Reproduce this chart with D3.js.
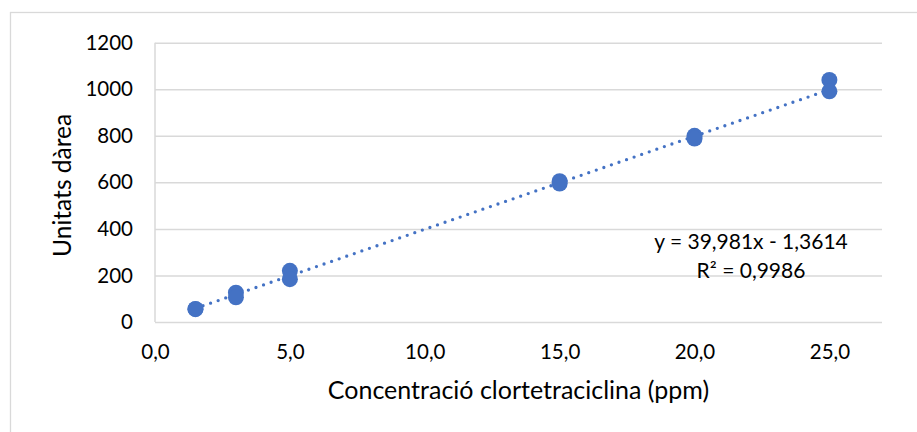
<!DOCTYPE html>
<html>
<head>
<meta charset="utf-8">
<script src="https://cdn.jsdelivr.net/npm/d3@7"></script>
<style>
  html, body { margin: 0; padding: 0; background: #fff; }
  svg { display: block; font-family: Lato, "Open Sans", sans-serif; }
</style>
</head>
<body>
<svg id="chart" width="917" height="432"></svg>
<script>
// Calibration data: concentration (ppm) vs. peak area units
const concentration = [1.5, 1.5, 3, 3, 5, 5, 15, 15, 20, 20, 25, 25];
const areaUnits     = [55, 56, 126, 106, 220, 184, 605, 595, 800, 788, 1040, 991];

// Axis ticks
const xTicks = [0, 5, 10, 15, 20, 25];
const yTicks = [0, 200, 400, 600, 800, 1000, 1200];

// Linear trendline fit
const slope = 39.981;
const intercept = -1.3614;
const rSquared = 0.9986;

const xTitle = "Concentració clortetraciclina (ppm)";
const yTitle = "Unitats dàrea";

const blue = "#4472C4";
const gridColor = "#d9d9d9";

const svg = d3.select("#chart");

// Chart area frame
svg.append("rect")
  .attr("x", 10.5).attr("y", 12.5)
  .attr("width", 930).attr("height", 440)
  .attr("fill", "#fff")
  .attr("stroke", gridColor)
  .attr("stroke-width", 1.3);

const plot = { left: 155, right: 882, top: 42.7, bottom: 322 };

const x = d3.scaleLinear().domain([0, 26.95]).range([plot.left, plot.right]);
const y = d3.scaleLinear().domain([0, 1200]).range([plot.bottom, plot.top]);

const commaFmt = (f) => (v) => d3.format(f)(v).replace(".", ",");

// Horizontal gridlines + y tick labels
const yAxis = svg.append("g")
  .attr("transform", `translate(${plot.left},0)`)
  .call(d3.axisLeft(y).tickValues(yTicks).tickSize(-(plot.right - plot.left)).tickPadding(22).tickFormat(d3.format("d")));
yAxis.select(".domain").remove();
yAxis.selectAll(".tick line").attr("stroke", gridColor).attr("stroke-width", 1.5);
yAxis.selectAll(".tick text")
  .attr("fill", "#000").attr("font-size", 20.5).attr("font-family", "Lato, sans-serif");

// Vertical axis line
svg.append("line")
  .attr("x1", plot.left).attr("x2", plot.left)
  .attr("y1", plot.top).attr("y2", plot.bottom)
  .attr("stroke", gridColor).attr("stroke-width", 1.5);

// X tick labels
const xAxis = svg.append("g")
  .attr("transform", `translate(0,${plot.bottom})`)
  .call(d3.axisBottom(x).tickValues(xTicks).tickSize(0).tickPadding(22).tickFormat(commaFmt(".1f")));
xAxis.select(".domain").remove();
xAxis.selectAll(".tick text")
  .attr("fill", "#000").attr("font-size", 20.5).attr("font-family", "Lato, sans-serif");

// Axis titles
svg.append("text")
  .attr("x", (plot.left + plot.right) / 2)
  .attr("y", 399)
  .attr("text-anchor", "middle")
  .attr("font-size", 25)
  .attr("fill", "#000")
  .text(xTitle);

svg.append("text")
  .attr("transform", `translate(71,${(plot.top + plot.bottom) / 2 + 3}) rotate(-90)`)
  .attr("text-anchor", "middle")
  .attr("font-size", 24.5)
  .attr("fill", "#000")
  .text(yTitle);

// Dotted linear trendline over the data range
const xMin = d3.min(concentration), xMax = d3.max(concentration);
const fitLine = d3.line().x(d => x(d)).y(d => y(slope * d + intercept));
svg.append("path")
  .datum([xMin, xMax])
  .attr("d", fitLine)
  .attr("fill", "none")
  .attr("stroke", blue)
  .attr("stroke-width", 3.3)
  .attr("stroke-linecap", "round")
  .attr("stroke-dasharray", "0 8");

// Data points
svg.append("g")
  .selectAll("circle")
  .data(concentration.map((c, i) => [c, areaUnits[i]]))
  .join("circle")
  .attr("cx", d => x(d[0]))
  .attr("cy", d => y(d[1]))
  .attr("r", 8)
  .attr("fill", blue);

// Equation label
const eq = svg.append("text")
  .attr("text-anchor", "middle")
  .attr("font-size", 21)
  .attr("fill", "#000");
eq.append("tspan")
  .attr("x", 751).attr("y", 249)
  .text(`y = ${commaFmt(".3f")(slope)}x - ${commaFmt(".4f")(-intercept)}`);
eq.append("tspan")
  .attr("x", 751).attr("y", 278)
  .text(`R² = ${commaFmt(".4f")(rSquared)}`);
</script>
</body>
</html>
